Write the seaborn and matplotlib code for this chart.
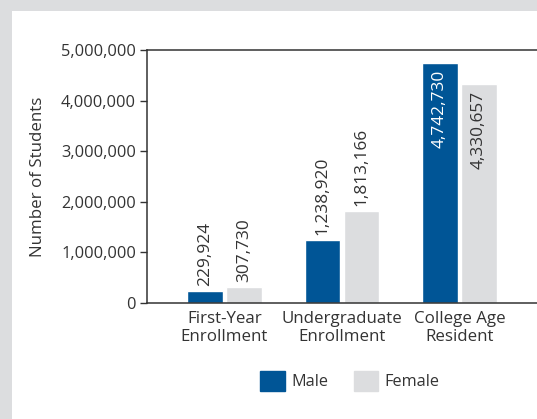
import matplotlib
matplotlib.use("Agg")
import matplotlib.pyplot as plt
import matplotlib.patches as mpatches
import matplotlib.ticker as mticker
import pandas as pd
import seaborn as sns

# data
categories = ["First-Year\nEnrollment", "Undergraduate\nEnrollment", "College Age\nResident"]
male = [229924, 1238920, 4742730]
female = [307730, 1813166, 4330657]
groups = ["Male", "Female"]

BLUE = "#005596"
GRAY = "#dcdddf"
TEXT = "#333333"

df = pd.DataFrame({
    "category": categories * 2,
    "students": male + female,
    "sex": ["Male"] * 3 + ["Female"] * 3,
})

sns.set_style("white")
plt.rcParams["font.family"] = ["Open Sans", "DejaVu Sans"]
plt.rcParams["text.color"] = TEXT
plt.rcParams["axes.labelcolor"] = TEXT
plt.rcParams["xtick.color"] = TEXT
plt.rcParams["ytick.color"] = TEXT

fig = plt.figure(figsize=(5.37, 4.19), dpi=100, facecolor=GRAY)
# white panel on the gray page
fig.patches.append(mpatches.Rectangle((12 / 537, 0), 1, 1 - 11 / 419,
                                      transform=fig.transFigure, facecolor="white",
                                      edgecolor="none", zorder=-1))
ax = fig.add_axes([147 / 537, 1 - 303 / 419, 1 - 147 / 537, (303 - 50) / 419])
ax.set_facecolor("none")

sns.barplot(data=df, x="category", y="students", hue="sex", hue_order=groups,
            palette={"Male": BLUE, "Female": GRAY}, width=0.664, gap=0.08,
            saturation=1, errorbar=None, ax=ax, legend=False)

ax.set_ylim(0, 5000000)
ax.set_xlim(-0.66, 2.66)
ax.yaxis.set_major_locator(mticker.MultipleLocator(1000000))
ax.yaxis.set_major_formatter(mticker.FuncFormatter(lambda v, p: f"{int(v):,}"))
ax.tick_params(axis="y", direction="out", length=5, width=1, labelsize=11.8, pad=3, left=True)
ax.tick_params(axis="x", length=0, labelsize=12.2, pad=5.5)
for s in ["left", "top", "bottom"]:
    ax.spines[s].set_color(TEXT)
    ax.spines[s].set_linewidth(1.1)
ax.spines["right"].set_visible(False)
ax.set_xlabel("")
ax.set_ylabel("Number of Students", fontsize=12.2, labelpad=11)
for lab in ax.get_xticklabels():
    lab.set_linespacing(1.2)

# value labels, rotated; tall bars get them inside
for cont, color in zip(ax.containers, [BLUE, GRAY]):
    for bar in cont:
        h = bar.get_height()
        x = bar.get_x() + bar.get_width() / 2
        txt = f"{int(h):,}"
        if h > 4000000:
            ax.annotate(txt, (x, h), xytext=(0, -5), textcoords="offset points",
                        rotation=90, ha="center", va="top", fontsize=12.4,
                        color="white" if color == BLUE else TEXT)
        else:
            ax.annotate(txt, (x, h), xytext=(0, 4), textcoords="offset points",
                        rotation=90, ha="center", va="bottom", fontsize=12.4, color=TEXT)

handles = [mpatches.Patch(color=BLUE, label="Male"), mpatches.Patch(color=GRAY, label="Female")]
fig.legend(handles=handles, loc="center", bbox_to_anchor=(350 / 537, 1 - 381 / 419),
           ncol=2, frameon=False, fontsize=11.7, handlelength=1.48, handleheight=1.48,
           handletextpad=0.43, columnspacing=1.54)

fig.savefig("out.png", dpi=100, facecolor=GRAY)
